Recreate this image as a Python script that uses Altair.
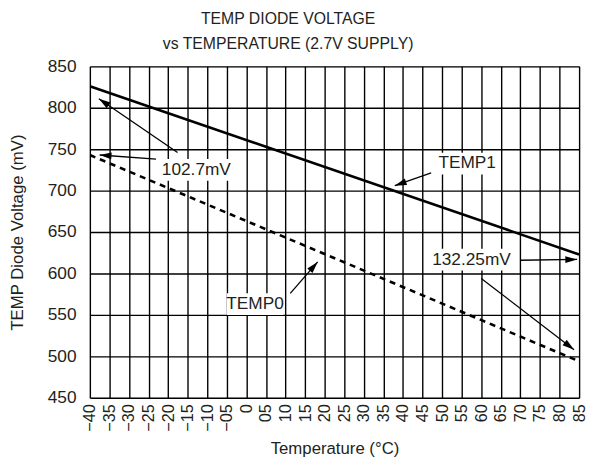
import math
import altair as alt
import pandas as pd

# ---- data ----
temps = [-40, 85]
temp1_mv = [826, 623]
temp0_mv = [743, 494]

x_ticks = list(range(-40, 90, 5))
x_tick_labels = ["−40", "−35", "−30", "−25", "−20", "−15", "−10", "−05", "0",
                 "05", "10", "15", "20", "25", "30", "35", "40", "45", "50",
                 "55", "60", "65", "70", "75", "80", "85"]
y_ticks = [450, 500, 550, 600, 650, 700, 750, 800, 850]

label_text = ["102.7mV", "132.25mV", "TEMP1", "TEMP0"]
label_x = [-12.8, 57.5, 56.4, 2.2]
label_y = [725, 616.7, 732.7, 563]

arrow_tail_x = [-17.6, -23.1, 47.2, 11.2, 69.9, 60.0]
arrow_tail_y = [746, 738, 721.4, 576, 616, 594]
arrow_tip_x = [-37.7, -37.5, 37.9, 18.2, 84.5, 83.7]
arrow_tip_y = [811, 743, 706, 614, 617, 508]

# ---- layout ----
W, H = 496, 336
XMIN, XMAX, YMIN, YMAX = -40, 85, 450, 850
FONT = "Liberation Sans"
INK = "#231f20"
FS = 17.5

px_per_x = W / (XMAX - XMIN)
px_per_y = H / (YMAX - YMIN)

lines_df = pd.DataFrame({
    "t": temps * 2,
    "v": temp1_mv + temp0_mv,
    "s": ["TEMP1"] * len(temps) + ["TEMP0"] * len(temps),
})

labels_df = pd.DataFrame({"text": label_text, "x": label_x, "y": label_y})
# white boxes behind labels
half_w = [(len(t) * FS * 0.56) / 2 + 4 for t in label_text]
half_h = 11
labels_df["x1"] = [x - hw / px_per_x for x, hw in zip(label_x, half_w)]
labels_df["x2"] = [x + hw / px_per_x for x, hw in zip(label_x, half_w)]
labels_df["y1"] = [y - half_h / px_per_y for y in label_y]
labels_df["y2"] = [y + half_h / px_per_y for y in label_y]

angles = []
for tx, ty, hx, hy in zip(arrow_tail_x, arrow_tail_y, arrow_tip_x, arrow_tip_y):
    dx = (hx - tx) * px_per_x
    dy = -(hy - ty) * px_per_y
    angles.append(math.degrees(math.atan2(dx, -dy)) % 360)

arrows_df = pd.DataFrame({
    "x": arrow_tail_x, "y": arrow_tail_y,
    "x2": arrow_tip_x, "y2": arrow_tip_y, "angle": angles,
})

label_map = "{" + ",".join(f"'{v}':'{l}'" for v, l in zip(x_ticks, x_tick_labels)) + "}"

xscale = alt.Scale(domain=[XMIN, XMAX], nice=False, zero=False)
yscale = alt.Scale(domain=[YMIN, YMAX], nice=False, zero=False)

x_axis = alt.Axis(
    values=x_ticks, tickCount=len(x_ticks) + 2,
    labelExpr=f"{label_map}[''+datum.value]",
    labelAngle=270, grid=True, ticks=False, domain=False,
    labelOverlap=False, labelFlush=False,
    labelPadding=6, labelFontSize=16.5, labelFont=FONT, labelColor=INK,
    title="Temperature (°C)", titleFontSize=17, titleFont=FONT,
    titleFontWeight="normal", titleColor=INK, titlePadding=10,
    gridColor="#000000", gridWidth=1.4, gridOpacity=1,
)
y_axis = alt.Axis(
    values=y_ticks, tickCount=len(y_ticks) + 2,
    grid=True, ticks=False, domain=False,
    labelOverlap=False, labelFlush=False,
    labelPadding=14, labelFontSize=FS, labelFont=FONT, labelColor=INK,
    title="TEMP Diode Voltage (mV)", titleFontSize=17, titleFont=FONT,
    titleFontWeight="normal", titleColor=INK, titlePadding=21,
    gridColor="#000000", gridWidth=1.4, gridOpacity=1,
)

base_lines = alt.Chart(lines_df)

grid_layer = alt.Chart(lines_df).mark_line(opacity=0).encode(
    x=alt.X("t:Q", scale=xscale, axis=x_axis),
    y=alt.Y("v:Q", scale=yscale, axis=y_axis),
)

boxes = alt.Chart(labels_df).mark_rect(color="white").encode(
    x="x1:Q", x2="x2:Q", y="y1:Q", y2="y2:Q",
)

line1 = base_lines.transform_filter(alt.datum.s == "TEMP1").mark_line(
    color="#000000", strokeWidth=2.6, clip=True
).encode(x="t:Q", y="v:Q")

line0 = base_lines.transform_filter(alt.datum.s == "TEMP0").mark_line(
    color="#000000", strokeWidth=2.6, strokeDash=[6, 5], clip=True
).encode(x="t:Q", y="v:Q")

arrow_lines = alt.Chart(arrows_df).mark_rule(color="#000000", strokeWidth=1.3).encode(
    x="x:Q", y="y:Q", x2="x2:Q", y2="y2:Q",
)

arrow_heads = alt.Chart(arrows_df).mark_point(
    shape="M0,0 L0.7,2.4 L-0.7,2.4 Z", filled=True, color="#000000",
    size=100, opacity=1,
).encode(x="x2:Q", y="y2:Q", angle=alt.Angle("angle:Q", scale=None))

texts = alt.Chart(labels_df).mark_text(
    font=FONT, fontSize=FS, color=INK, baseline="middle", align="center",
).encode(x="x:Q", y="y:Q", text="text:N")

chart = alt.layer(
    grid_layer, boxes, line1, line0, arrow_lines, arrow_heads, texts
).properties(
    width=W, height=H,
    title=alt.TitleParams(
        text=["TEMP DIODE VOLTAGE", "vs TEMPERATURE (2.7V SUPPLY)"],
        font=FONT, fontSize=16, fontWeight="normal", color=INK,
        anchor="middle", frame="group", dx=-47, offset=6, lineHeight=25,
    ),
    autosize=alt.AutoSizeParams(type="none"),
    padding={"left": 83, "top": 56, "right": 8, "bottom": 66},
).configure_view(
    stroke="#000000", strokeWidth=2.2,
).configure(background="white")

chart.save("out.html", embed_options={"renderer": "svg", "actions": False})
